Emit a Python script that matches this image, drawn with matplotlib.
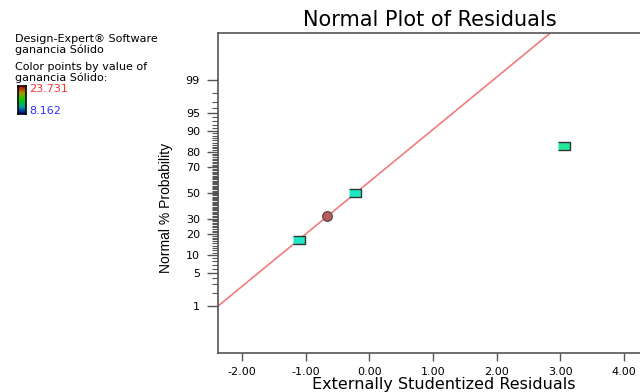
import matplotlib.pyplot as plt
import numpy as np
from statistics import NormalDist
from matplotlib.colors import LinearSegmentedColormap

plt.rcParams['font.family'] = ['DejaVu Sans']

# residuals and their normal % probability
resid = [-1.11, -0.66, -0.22, 3.06]
prob = [16.7, 32.0, 50.0, 83.3]
gain = [14.9, 23.731, 14.2, 12.8]   # ganancia Sólido, used for colour
gain_lo, gain_hi = 8.162, 23.731

# fitted normal line
mu, sigma = -0.216, 0.929

prob_ticks = [1, 5, 10, 20, 30, 50, 70, 80, 90, 95, 99]
prob_minor = [2, 3, 4] + list(range(6, 10)) + list(range(11, 90)) + [91, 92, 93, 94, 96, 97, 98]
x_ticks = [-2, -1, 0, 1, 2, 3, 4]

nd = NormalDist()
z = lambda p: nd.inv_cdf(p / 100.0)

cmap = LinearSegmentedColormap.from_list('de', ['#0000a0', '#00a0a0', '#00d000', '#a0a000', '#c00000'])

fig = plt.figure(figsize=(6.4, 3.92), dpi=100)
ax = fig.add_axes([0.3406, 0.0995, 0.6745, 0.8163])

xlim = (-2.377, 4.4)
ax.set_xlim(*xlim)
ax.set_ylim(-3.29, 3.29)

# normal line
lx = np.array(xlim)
ax.plot(lx, (lx - mu) / sigma, color='#f27c7c', lw=1.2, zorder=2)

rect = [(-1, -0.7), (1, -0.7), (1, 0.7), (-1, 0.7)]
for r, p, g in zip(resid, prob, gain):
    if g == gain_hi:
        ax.plot(r, z(p), marker='o', ms=7, mfc='#b85c5c', mec='#444444', mew=0.8, zorder=3)
    else:
        col = '#1ee8c4' if r < 2 else '#22e89a'
        ax.plot(r, z(p), marker=rect, ms=8, mfc=col, mec='#333333', mew=1.0, zorder=3)

ax.set_yticks([z(p) for p in prob_ticks])
ax.set_yticklabels([str(p) for p in prob_ticks])
ax.set_yticks([z(p) for p in prob_minor], minor=True)
ax.set_xticks(x_ticks)
ax.set_xticklabels(['%.2f' % t for t in x_ticks])

ax.tick_params(axis='both', which='major', labelsize=8, color='#555555', width=1)
ax.tick_params(axis='x', which='major', length=6, pad=4)
ax.tick_params(axis='y', which='major', length=8, pad=5)
ax.tick_params(axis='y', which='minor', length=4.5, color='#555555', width=0.8)
for s in ax.spines.values():
    s.set_color('#555555')
    s.set_linewidth(1.2)

ax.set_xlabel('Externally Studentized Residuals', fontsize=11.5, labelpad=0)
ax.xaxis.set_label_coords((444 - 218) / 431.7, -0.075)
ax.set_ylabel('Normal % Probability', fontsize=10, family='Liberation Sans')
ax.yaxis.set_label_coords(-0.104, 0.453)
fig.text(0.672, 0.949, 'Normal Plot of Residuals', fontsize=15, ha='center', va='center')

# side notes
fig.text(0.023, 0.900, 'Design-Expert® Software', fontsize=8, va='center')
fig.text(0.023, 0.872, 'ganancia Sólido', fontsize=8, va='center')
fig.text(0.023, 0.830, 'Color points by value of', fontsize=8, va='center')
fig.text(0.023, 0.802, 'ganancia Sólido:', fontsize=8, va='center')
fig.text(0.046, 0.772, '%.3f' % gain_hi, fontsize=8, va='center', color='#ff3030')
fig.text(0.046, 0.717, '%.3f' % gain_lo, fontsize=8, va='center', color='#3030ff')

cax = fig.add_axes([0.028, 0.709, 0.0125, 0.0714])
cax.imshow(np.linspace(1, 0, 50).reshape(-1, 1), aspect='auto', cmap=cmap)
cax.set_xticks([])
cax.set_yticks([])
for s in cax.spines.values():
    s.set_color('black')
    s.set_linewidth(1.2)

fig.savefig('out.png', dpi=100)
